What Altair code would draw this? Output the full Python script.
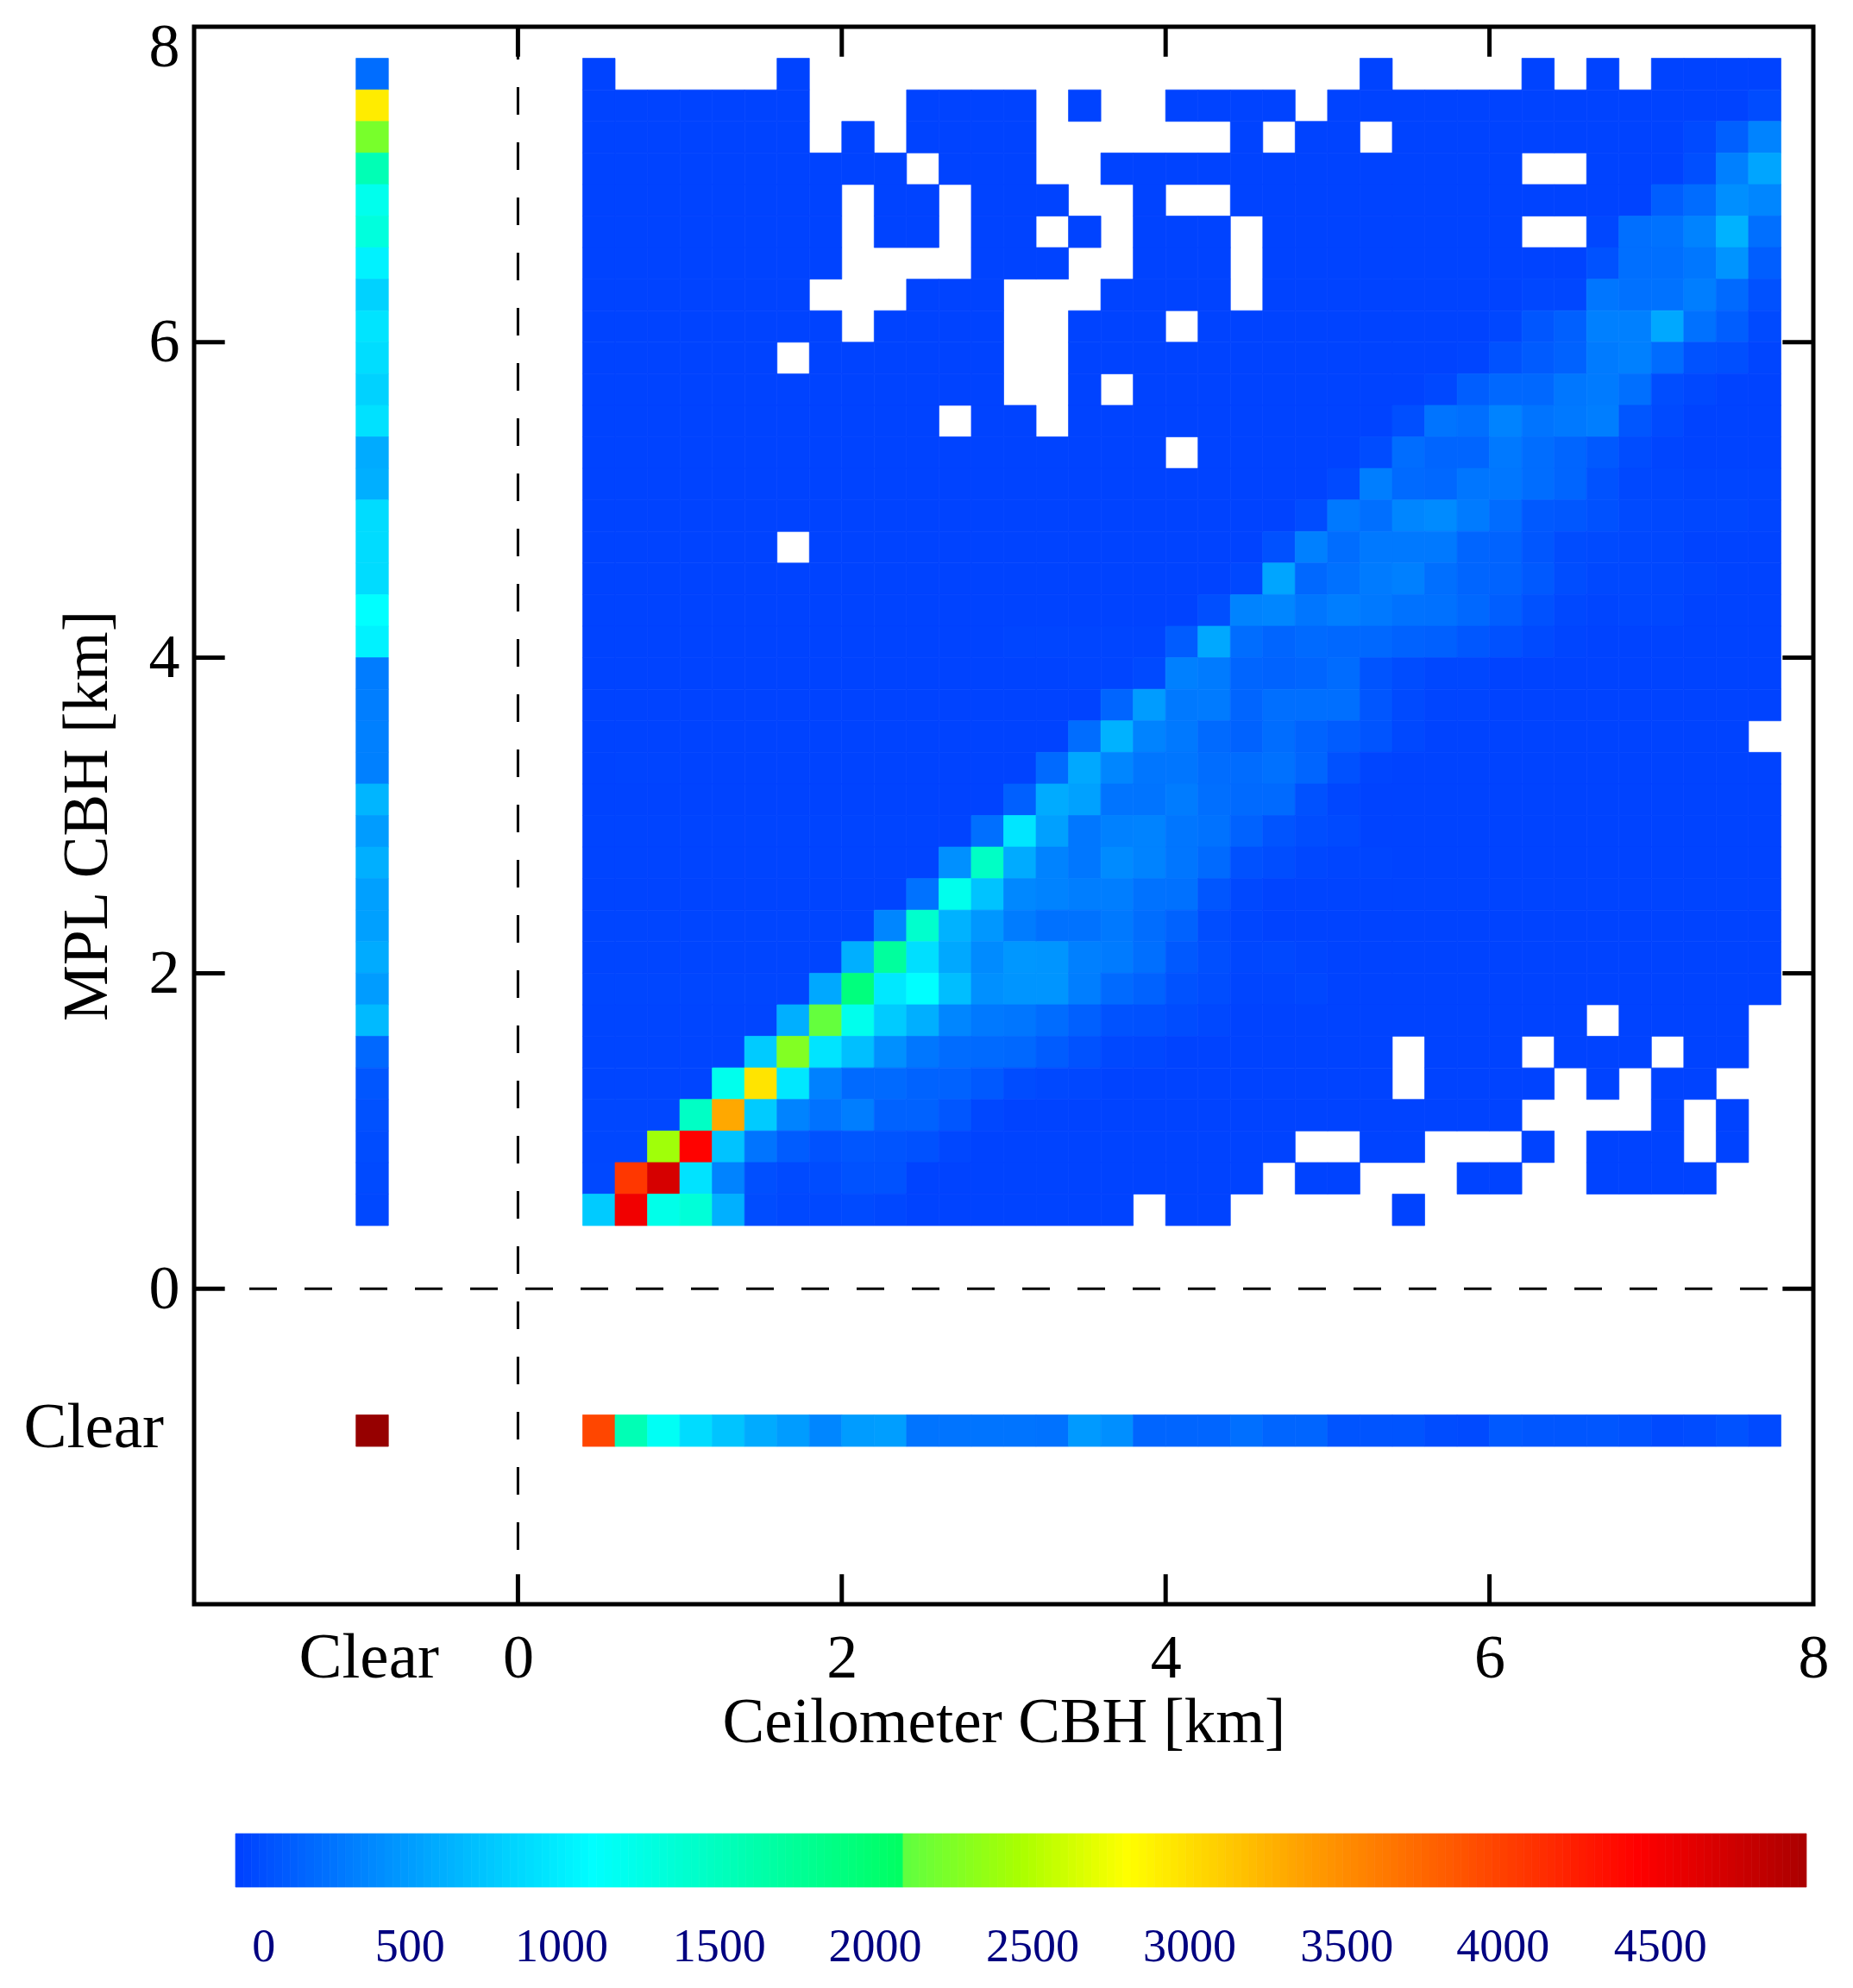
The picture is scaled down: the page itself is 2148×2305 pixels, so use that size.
import altair as alt
import pandas as pd
import numpy as np

N = None
FONT = "Liberation Serif"

# Ceilometer column lower edges (km) and MPL row lower edges (km, top row first)
COL_EDGES = [round(0.4 + 0.2 * i, 1) for i in range(37)]
ROW_EDGES = [round(7.6 - 0.2 * i, 1) for i in range(37)]

R00 = [20,N,N,N,N, N,20,N,N,N, N,N,N,N,N, N,N,N,N,N, N,N,N,N,20, N,N,N,N,20, N,20,N,20,20, 20,20]
R01 = [20,20,20,20,20, 20,20,N,N,N, 20,20,20,20,N, 20,N,N,20,20, 20,20,N,20,20, 20,20,20,20,20, 20,20,20,20,20, 20,70]
R02 = [20,20,20,20,20, 20,20,N,20,N, 20,20,20,20,N, N,N,N,N,N, 20,N,20,20,N, 20,20,20,20,20, 20,20,20,20,60, 190,400]
R03 = [20,20,20,20,20, 20,20,20,20,20, N,20,20,20,N, N,20,20,20,20, 20,20,20,20,20, 20,20,20,20,N, N,20,20,20,90, 380,600]
R04 = [20,20,20,20,20, 20,20,20,N,20, 20,N,20,20,20, N,N,20,N,N, 20,20,20,20,20, 20,20,20,20,20, 20,20,20,180,260, 470,420]
R05 = [20,20,20,20,20, 20,20,20,N,20, 20,N,20,20,N, 20,N,20,20,20, N,20,20,20,20, 20,20,20,20,N, N,40,280,300,400, 680,280]
R06 = [20,20,20,20,20, 20,20,20,N,N, N,N,20,20,20, N,N,20,20,20, N,20,20,20,20, 20,20,20,20,20, 20,110,280,280,330, 500,180]
R07 = [20,20,20,20,20, 20,20,N,N,N, 20,20,20,N,N, N,20,20,20,20, N,20,20,20,20, 20,20,20,20,40, 40,320,290,300,370, 250,100]
R08 = [20,20,20,20,20, 20,20,20,N,20, 20,20,20,N,N, 20,20,20,N,20, 20,20,20,20,20, 20,20,20,40,130, 190,380,380,620,290, 180,60]
R09 = [20,20,20,20,20, 20,N,20,20,20, 20,20,20,N,N, 20,20,20,20,20, 20,20,20,20,20, 20,20,30,110,160, 200,350,380,260,110, 90,30]
R10 = [20,20,20,20,20, 20,20,20,20,20, 20,20,20,N,N, 20,N,20,20,20, 20,20,20,20,20, 20,50,180,240,240, 330,350,280,80,50, 20,20]
R11 = [20,20,20,20,20, 20,20,20,20,20, 20,N,20,20,N, 20,20,20,20,20, 20,20,20,20,20, 90,310,280,400,310, 340,370,130,60,20, 20,20]
R12 = [20,20,20,20,20, 20,20,20,20,20, 20,20,20,20,20, 20,20,20,N,20, 20,20,20,20,70, 270,220,220,340,270, 220,150,70,30,20, 20,20]
R13 = [20,20,20,20,20, 20,20,20,20,20, 20,20,20,20,20, 20,20,20,20,20, 20,20,20,60,370, 250,240,320,330,270, 220,110,50,40,30, 30,30]
R14 = [20,20,20,20,20, 20,20,20,20,20, 20,20,20,20,20, 20,20,20,20,20, 20,20,70,340,280, 420,450,350,260,150, 140,100,60,50,40, 40,30]
R15 = [20,20,20,20,20, 20,N,20,20,20, 20,20,20,20,20, 20,20,20,20,20, 20,100,380,270,340, 340,340,220,210,130, 70,60,50,40,20, 20,20]
R16 = [20,20,20,20,20, 20,20,20,20,20, 20,20,20,20,20, 20,20,20,20,20, 50,600,240,290,350, 380,280,220,210,150, 80,50,50,40,30, 20,20]
R17 = [20,20,20,20,20, 20,20,20,20,20, 20,20,20,20,20, 20,20,20,20,90, 400,420,320,370,340, 300,290,240,180,100, 50,30,40,40,20, 20,20]
R18 = [20,20,20,20,20, 20,20,20,20,20, 20,20,20,30,30, 30,30,30,170,620, 270,220,250,240,240, 200,190,140,100,60, 30,20,20,20,20, 20,20]
R19 = [20,20,20,20,20, 20,20,20,20,20, 20,20,20,20,20, 30,30,60,380,350, 220,210,220,260,120, 70,40,40,20,20, 20,20,20,20,20, 20,20]
R20 = [20,20,20,20,20, 20,20,20,20,20, 20,20,20,20,20, 20,220,550,340,350, 220,280,280,280,130, 60,30,30,20,20, 20,20,20,20,20, 20,20]
R21 = [20,20,20,20,20, 20,20,20,20,20, 20,20,20,20,20, 270,680,400,340,250, 200,270,210,170,120, 50,15,15,15,15, 15,15,15,15,15, 15,N]
R22 = [20,25,25,20,20, 20,20,20,20,20, 20,20,20,20,250, 620,420,320,320,270, 260,290,220,100,30, 20,20,20,20,20, 20,20,20,20,20, 20,20]
R23 = [20,20,20,20,20, 20,20,20,20,20, 20,20,20,190,640, 580,310,310,360,280, 250,250,100,40,20, 20,20,20,20,20, 20,20,20,20,20, 20,20]
R24 = [25,25,25,25,25, 25,25,25,25,25, 25,25,280,990,570, 330,390,400,320,300, 200,120,80,60,20, 20,20,20,20,20, 20,20,20,20,20, 20,20]
R25 = [25,25,25,25,25, 25,25,25,25,25, 25,480,1500,640,400, 330,450,400,320,250, 100,80,40,30,30, 20,20,20,20,20, 20,20,20,20,20, 20,20]
R26 = [25,25,25,25,25, 25,25,25,25,25, 300,1250,780,430,400, 370,370,300,290,130, 50,25,25,25,25, 25,25,25,25,25, 25,25,25,25,25, 25,25]
R27 = [30,30,30,30,30, 30,30,30,30,420, 1450,680,520,360,290, 300,340,270,200,80, 35,20,20,20,20, 20,20,20,20,20, 20,20,20,20,20, 20,20]
R28 = [30,30,30,30,30, 30,30,30,660,1750, 950,620,450,520,510, 380,350,280,150,90, 40,50,30,20,20, 20,20,20,20,20, 20,20,20,20,20, 20,20]
R29 = [35,35,35,35,35, 35,35,620,1950,1000, 1140,750,480,510,510, 370,250,200,110,80, 30,30,40,20,20, 20,20,20,20,20, 20,20,20,20,20, 20,20]
R30 = [30,30,30,30,30, 30,660,2150,1250,830, 660,420,340,320,260, 190,110,100,70,50, 20,20,20,20,20, 20,20,20,20,20, 20,N,20,20,20, 20,N]
R31 = [30,30,30,30,30, 830,2300,980,760,480, 330,260,250,240,170, 110,50,40,20,20, 20,20,20,20,20, N,20,20,20,N, 20,20,20,N,20, 20,N]
R32 = [30,30,30,30,1250, 3000,1000,390,250,250, 210,200,150,70,50, 40,20,20,20,20, 20,20,20,20,20, N,20,20,20,20, N,20,N,20,20, N,N]
R33 = [40,40,40,1500,3350, 830,400,300,370,200, 200,130,40,20,20, 20,20,20,20,20, 20,20,20,20,20, 20,20,20,20,N, N,N,N,20,N, 20,N]
R34 = [40,40,2450,4450,780, 310,170,110,130,120, 100,40,20,20,20, 20,20,20,20,20, 20,20,N,N,20, 20,N,N,N,20, N,20,20,20,N, 20,N]
R35 = [50,4100,4720,970,400, 90,60,70,110,110, 20,20,20,20,20, 20,20,20,20,20, 20,N,20,20,N, N,N,20,20,N, N,20,20,20,20, N,N]
R36 = [830,4550,1280,1380,670, 70,50,50,60,40, 20,20,20,20,20, 20,20,N,20,20, N,N,N,N,N, 20,N,N,N,N, N,N,N,N,N, N,N]
GRID = [R00,R01,R02,R03,R04,R05,R06,R07,R08,R09,R10,R11,R12,R13,R14,R15,R16,R17,R18,
        R19,R20,R21,R22,R23,R24,R25,R26,R27,R28,R29,R30,R31,R32,R33,R34,R35,R36]

# "Clear" column of the MPL axis (ceilometer clear), top row first
CLEAR_COL = [270,2950,2250,1600,1250,1350,1060,870,980,940,870,960,640,660,930,930,930,1140,1060,
             360,370,380,380,700,550,660,570,570,640,550,730,240,130,100,70,60,50]
# "Clear" row of the ceilometer axis (MPL clear), left to right
CLEAR_ROW = [4000,1600,1200,930,790,640,550,420,550,560,310,310,310,310,300,540,470,220,220,220,
             280,220,220,120,120,120,70,60,150,130,130,130,110,60,70,110,60]
CLEAR_CLEAR = 5300
CLEAR_X0 = -1.0
CLEAR_Y0 = -1.0
BIN = 0.2

COLOR_STOPS = [0, 1140, 2130, 2131, 2500, 2840, 3400, 4465, 5000, 5300]
COLOR_HEX = ["#0040ff", "#00ffff", "#00ff60", "#60ff40", "#aaff00", "#ffff00", "#ffa000", "#ff0000", "#aa0000", "#960000"]

AXIS_TICKS = [0, 2, 4, 6, 8]
FRAME_TICKS = [0, 2, 4, 6]
TICK_LEN = 0.19
BAR_LABELS = ["0", "500", "1000", "1500", "2000", "2500", "3000", "3500", "4000", "4500"]
BAR_LABEL_AT = [90, 555, 1038, 1540, 2036, 2537, 3037, 3537, 4034, 4535]

recs = []
for r, row in enumerate(GRID):
    for c, v in enumerate(row):
        if v is not None:
            recs.append(dict(x=COL_EDGES[c], x2=COL_EDGES[c] + BIN, y=ROW_EDGES[r], y2=ROW_EDGES[r] + BIN, v=v))
for r, v in enumerate(CLEAR_COL):
    recs.append(dict(x=CLEAR_X0, x2=CLEAR_X0 + BIN, y=ROW_EDGES[r], y2=ROW_EDGES[r] + BIN, v=v))
for c, v in enumerate(CLEAR_ROW):
    recs.append(dict(x=COL_EDGES[c], x2=COL_EDGES[c] + BIN, y=CLEAR_Y0, y2=CLEAR_Y0 + BIN, v=v))
recs.append(dict(x=CLEAR_X0, x2=CLEAR_X0 + BIN, y=CLEAR_Y0, y2=CLEAR_Y0 + BIN, v=CLEAR_CLEAR))
cells = pd.DataFrame(recs)

xs = alt.Scale(domain=[-2, 8], nice=False, zero=False)
ys = alt.Scale(domain=[-2, 8], nice=False, zero=False)
cs = alt.Scale(domain=COLOR_STOPS, range=COLOR_HEX, interpolate="rgb", clamp=True)

X_AXIS = alt.Axis(
    values=AXIS_TICKS, tickSize=0, grid=False, domain=False, format="d",
    labelFont=FONT, labelFontSize=72, labelColor="black", labelPadding=27, labelFlush=False,
    title="Ceilometer CBH [km]", titleFont=FONT, titleFontSize=73, titleFontWeight="normal",
    titleColor="black", titlePadding=3)
Y_AXIS = alt.Axis(
    values=AXIS_TICKS, tickSize=0, grid=False, domain=False, format="d",
    labelFont=FONT, labelFontSize=72, labelColor="black", labelPadding=17, labelFlush=True,
    labelFlushOffset=12,
    title="MPL CBH [km]", titleFont=FONT, titleFontSize=73, titleFontWeight="normal",
    titleColor="black", titlePadding=34)


def pos_x(f="x"):
    return alt.X(f"{f}:Q", scale=xs, axis=X_AXIS)


def pos_y(f="y"):
    return alt.Y(f"{f}:Q", scale=ys, axis=Y_AXIS)


heat = alt.Chart(cells).mark_rect(strokeWidth=0.7).encode(
    x=pos_x(), x2="x2:Q", y=pos_y(), y2="y2:Q",
    color=alt.Color("v:Q", scale=cs, legend=None),
    stroke=alt.Color("v:Q", scale=cs, legend=None),
)

zero_v = alt.Chart(pd.DataFrame({"x": [0], "y": [8], "y2": [-2]})).mark_rule(
    color="black", strokeWidth=3, strokeDash=[32, 32], strokeDashOffset=58
).encode(x=pos_x(), y=pos_y(), y2="y2:Q")
zero_h = alt.Chart(pd.DataFrame({"y": [0], "x": [-2], "x2": [8]})).mark_rule(
    color="black", strokeWidth=3, strokeDash=[32, 32]
).encode(y=pos_y(), x=pos_x(), x2="x2:Q")

tick_rows = []
for t in FRAME_TICKS:
    tick_rows.append(dict(x=t, x2=t, y=-2, y2=-2 + TICK_LEN))
    tick_rows.append(dict(x=t, x2=t, y=8, y2=8 - TICK_LEN))
    tick_rows.append(dict(x=-2, x2=-2 + TICK_LEN, y=t, y2=t))
    tick_rows.append(dict(x=8, x2=8 - TICK_LEN, y=t, y2=t))
ticks = alt.Chart(pd.DataFrame(tick_rows)).mark_rule(color="black", strokeWidth=5).encode(
    x=pos_x(), x2="x2:Q", y=pos_y(), y2="y2:Q"
)

clear_y = alt.Chart(pd.DataFrame({"x": [-2], "y": [-0.9], "t": ["Clear"]})).mark_text(
    font=FONT, fontSize=75, color="black", align="right", baseline="alphabetic", dx=-35, dy=19
).encode(x=pos_x(), y=pos_y(), text="t:N")
clear_x = alt.Chart(pd.DataFrame({"x": [-0.92], "y": [-2], "t": ["Clear"]})).mark_text(
    font=FONT, fontSize=75, color="black", align="center", baseline="alphabetic", dy=85
).encode(x=pos_x(), y=pos_y(), text="t:N")

main = alt.layer(heat, zero_v, zero_h, ticks, clear_y, clear_x).properties(
    width=1877, height=1829, view=alt.ViewBackground(stroke="black", strokeWidth=5, fill=None)
)

bar_start = np.arange(0, 5000, 25)
bar_df = pd.DataFrame({"a": bar_start, "b": bar_start + 25, "v": bar_start + 12.5})
bxs = alt.Scale(domain=[-131.8, 5022], nice=False, zero=False)
bar = alt.Chart(bar_df).mark_rect(strokeWidth=0.7).encode(
    x=alt.X("a:Q", scale=bxs, axis=None), x2="b:Q",
    color=alt.Color("v:Q", scale=cs, legend=None),
    stroke=alt.Color("v:Q", scale=cs, legend=None),
)
bar_txt = alt.Chart(pd.DataFrame({"x": BAR_LABEL_AT, "t": BAR_LABELS})).mark_text(
    font=FONT, fontSize=54, color="#000080", align="center", baseline="alphabetic", dy=117
).encode(x=alt.X("x:Q", scale=bxs, axis=None), text="t:N")
colorbar = alt.layer(bar, bar_txt).properties(
    width=1877, height=62, view=alt.ViewBackground(stroke=None, fill=None)
)

chart = alt.vconcat(main, colorbar, spacing=88).properties(
    padding={"left": 17, "top": 7, "right": 0, "bottom": 0}, background="white"
).resolve_scale(color="independent", x="independent", y="independent")

chart.save("out.html", embed_options={"renderer": "svg", "actions": False})
